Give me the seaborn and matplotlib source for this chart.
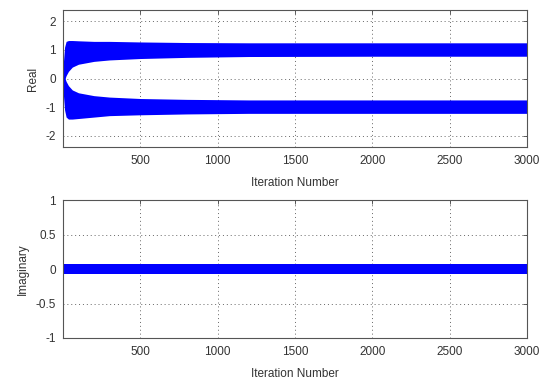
import matplotlib
matplotlib.use("Agg")
import matplotlib.pyplot as plt
import seaborn as sns
import pandas as pd

# envelope of the real-part scatter
iters = [0, 10, 20, 35, 60, 100, 200, 300, 500, 800, 1200, 2000, 3000]
upper_hi = [0.4, 1.1, 1.3, 1.33, 1.33, 1.32, 1.3, 1.3, 1.28, 1.26, 1.25, 1.25, 1.25]
upper_lo = [-0.3, -0.05, 0.1, 0.25, 0.4, 0.5, 0.6, 0.65, 0.7, 0.74, 0.77, 0.78, 0.78]
lower_hi = [0.3, 0.05, -0.1, -0.25, -0.4, -0.5, -0.6, -0.65, -0.7, -0.73, -0.75, -0.75, -0.75]
lower_lo = [-0.4, -1.1, -1.35, -1.42, -1.42, -1.4, -1.35, -1.3, -1.27, -1.24, -1.22, -1.22, -1.22]

# imaginary part stays at zero
imag_iters = [0, 3000]
imag_values = [0, 0]

real_ticks = [-2, -1, 0, 1, 2]
imag_ticks = [-1, -0.5, 0, 0.5, 1]
x_ticks = [500, 1000, 1500, 2000, 2500, 3000]

sns.set_style("white")
plt.rcParams["font.family"] = ["Liberation Sans", "DejaVu Sans"]

fig = plt.figure(figsize=(5.49, 3.83), dpi=100)
ax1 = fig.add_axes([0.1148, 0.616, 0.845, 0.358])
ax2 = fig.add_axes([0.1148, 0.1175, 0.845, 0.360])

blue = "#0000ff"
txt = "#333333"
fs = 8.5

ax1.fill_between(iters, upper_lo, upper_hi, color=blue, lw=0)
ax1.fill_between(iters, lower_lo, lower_hi, color=blue, lw=0)

df = pd.DataFrame({"iter": imag_iters, "imag": imag_values})
sns.lineplot(data=df, x="iter", y="imag", ax=ax2, color=blue, lw=7.2,
             solid_capstyle="round")

for ax, yt, lab in [(ax1, real_ticks, "Real"), (ax2, imag_ticks, "Imaginary")]:
    ax.set_xlim(0, 3000)
    ax.set_xticks(x_ticks)
    ax.set_yticks(yt)
    ax.set_yticklabels([f"{v:g}" for v in yt])
    ax.set_xlabel("Iteration Number", fontsize=fs, color=txt, labelpad=7)
    ax.set_ylabel(lab, fontsize=fs, color=txt, labelpad=5)
    ax.tick_params(direction="in", length=3, width=0.6, top=True, right=True,
                   labelsize=fs, labelcolor=txt, color="#444444", pad=5)
    ax.tick_params(axis="x", pad=6)
    ax.grid(True, linestyle=(0, (1, 3)), color="#666666", lw=0.7)
    for s in ax.spines.values():
        s.set_color("#555555")
        s.set_linewidth(0.8)

ax1.set_ylim(-2.4, 2.4)
ax2.set_ylim(-1, 1)

fig.savefig("out.png", dpi=100)
